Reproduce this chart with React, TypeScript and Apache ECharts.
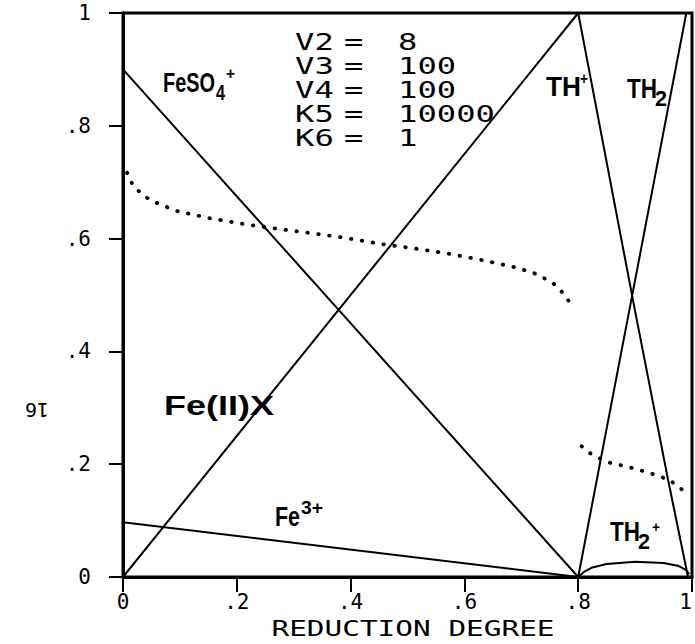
import React, { useEffect, useRef } from "react";
import * as echarts from "echarts";

// ---- data ----
const xTickValues = [0, 0.2, 0.4, 0.6, 0.8, 1];
const feSO4Plus = [[0, 0.9], [0.8, 0]];
const fe2X = [[0, 0], [0.8, 1]];
const fe3Plus = [[0, 0.097], [0.8, 0]];
const thPlus = [[0.8, 1], [0.897, 0.487], [0.958, 0.172], [0.993, 0]];
const th2 = [[0.8, 0], [0.99, 1]];
const th2Plus = [
  [0.8, 0], [0.81, 0.009], [0.825, 0.017], [0.85, 0.023], [0.9, 0.027],
  [0.95, 0.025], [0.975, 0.02], [0.99, 0.012], [0.995, 0.005],
];
const dottedLow = [
  [0.007, 0.717], [0.017, 0.695], [0.036, 0.676], [0.053, 0.666], [0.094, 0.649],
  [0.153, 0.636], [0.211, 0.626], [0.252, 0.62], [0.328, 0.61], [0.386, 0.602],
  [0.457, 0.59], [0.509, 0.583], [0.568, 0.574], [0.626, 0.563], [0.685, 0.55],
  [0.72, 0.54], [0.755, 0.522], [0.775, 0.502], [0.786, 0.485],
];
const dottedHigh = [
  [0.806, 0.232], [0.817, 0.222], [0.825, 0.217], [0.84, 0.209], [0.854, 0.203],
  [0.872, 0.199], [0.892, 0.194], [0.913, 0.188], [0.936, 0.181], [0.96, 0.172],
  [0.974, 0.162], [0.986, 0.152],
];
const paramNames = ["V2", "V3", "V4", "K5", "K6"];
const paramValues = ["8", "100", "100", "10000", "1"];
const xAxisTitle = "REDUCTION DEGREE";
const yAxisTitle = "16";

const MONO = '"DejaVu Sans Mono", "Liberation Mono", monospace';
const SANS = '"Liberation Sans", Arial, sans-serif';

function measure(text: string, size: number): number {
  const ctx = document.createElement("canvas").getContext("2d")!;
  ctx.font = `bold ${size}px ${SANS}`;
  return ctx.measureText(text).width || 1;
}

type Part = { text: string; x: number; cy: number; w: number; size: number };

function labelParts(parts: Part[]) {
  return parts.map((p) => ({
    type: "text",
    x: p.x,
    y: p.cy,
    scaleX: p.w / measure(p.text, p.size),
    style: {
      text: p.text,
      fontFamily: SANS,
      fontWeight: "bold",
      fontSize: p.size,
      fill: "#000",
      align: "left",
      verticalAlign: "middle",
    },
  }));
}

function fmt(v: number): string {
  if (Math.abs(v) < 1e-9) return "0";
  if (Math.abs(v - 1) < 1e-9) return "1";
  return v.toFixed(1).replace(/^0/, "");
}

export default function App() {
  const ref = useRef<HTMLDivElement>(null);
  useEffect(() => {
    document.body.style.margin = "0";
    if (!ref.current) return;
    const chart = echarts.init(ref.current, null, { renderer: "svg" });

    const solid = (name: string, data: number[][]) => ({
      name,
      type: "line",
      data,
      symbol: "none",
      lineStyle: { color: "#000", width: 2 },
      silent: true,
    });
    const dotted = (name: string, data: number[][]) => ({
      name,
      type: "line",
      data,
      symbol: "none",
      lineStyle: { color: "#000", width: 3.8, type: [0.5, 10.5], cap: "round" },
      silent: true,
    });

    const paramRows = [42, 66, 90, 114, 138];
    const paramText: any[] = [];
    paramNames.forEach((n, i) => {
      const base = {
        type: "text",
        y: paramRows[i],
        scaleX: 1.4,
      };
      const st = { fontFamily: MONO, fontSize: 23, fill: "#000", align: "left", verticalAlign: "middle" };
      paramText.push({ ...base, x: 295, style: { ...st, text: n } });
      paramText.push({ ...base, x: 344, style: { ...st, text: "=" } });
      paramText.push({ ...base, x: 398, style: { ...st, text: paramValues[i] } });
    });

    const species = labelParts([
      { text: "FeSO", x: 163, cy: 83, w: 52, size: 27 },
      { text: "4", x: 216, cy: 93, w: 9, size: 22 },
      { text: "+", x: 226, cy: 73, w: 9, size: 17 },
      { text: "Fe(II)X", x: 164, cy: 406, w: 110, size: 27 },
      { text: "Fe", x: 275, cy: 517, w: 25, size: 27 },
      { text: "3+", x: 301, cy: 508, w: 22, size: 18 },
      { text: "TH", x: 546, cy: 87, w: 35, size: 27 },
      { text: "+", x: 580, cy: 79, w: 8, size: 16 },
      { text: "TH", x: 627, cy: 88, w: 30, size: 27 },
      { text: "2", x: 655, cy: 98, w: 12, size: 22 },
      { text: "TH", x: 610, cy: 531, w: 30, size: 28 },
      { text: "2", x: 638, cy: 541, w: 12, size: 22 },
      { text: "+", x: 652, cy: 527, w: 8, size: 15 },
    ]);

    const axisCommon = {
      type: "value",
      min: 0,
      max: 1,
      interval: 0.2,
      splitLine: { show: false },
      axisLine: { show: true, lineStyle: { color: "#000", width: 3 } },
      axisTick: { show: true, inside: false, lineStyle: { color: "#000", width: 2 } },
    };

    chart.setOption({
      animation: false,
      backgroundColor: "#fff",
      grid: {
        left: 123,
        right: 3,
        top: 13,
        bottom: 67,
        show: true,
        borderColor: "#000",
        borderWidth: 3,
        containLabel: false,
        outerBoundsMode: "none",
      },
      xAxis: {
        ...axisCommon,
        axisTick: { ...axisCommon.axisTick, length: 15 },
        axisLabel: {
          formatter: fmt,
          fontFamily: MONO,
          fontSize: 21,
          color: "#000",
          margin: 14,
          alignMaxLabel: "right",
          customValues: xTickValues,
        },
      },
      yAxis: {
        ...axisCommon,
        axisTick: { ...axisCommon.axisTick, length: 14 },
        axisLabel: {
          formatter: fmt,
          fontFamily: MONO,
          fontSize: 21,
          color: "#000",
          margin: 32,
        },
      },
      series: [
        solid("FeSO4+", feSO4Plus),
        solid("Fe(II)X", fe2X),
        solid("Fe3+", fe3Plus),
        solid("TH+", thPlus),
        solid("TH2", th2),
        solid("TH2+", th2Plus),
        dotted("dotted A", dottedLow),
        dotted("dotted B", dottedHigh),
      ],
      graphic: [
        ...paramText,
        ...species,
        {
          type: "text",
          x: 413,
          y: 629,
          scaleX: 1.4,
          style: {
            text: xAxisTitle,
            fontFamily: MONO,
            fontSize: 21,
            fill: "#000",
            align: "center",
            verticalAlign: "middle",
          },
        },
        {
          type: "text",
          x: 37,
          y: 410,
          rotation: Math.PI,
          style: {
            text: yAxisTitle,
            fontFamily: MONO,
            fontSize: 20,
            fill: "#000",
            align: "center",
            verticalAlign: "middle",
          },
        },
      ],
    });
    return () => chart.dispose();
  }, []);
  return <div ref={ref} style={{ width: 695, height: 644 }} />;
}
